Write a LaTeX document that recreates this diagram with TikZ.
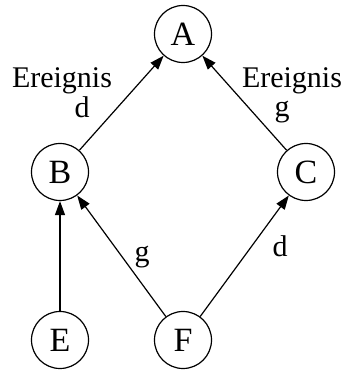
\documentclass[tikz,border=0pt]{standalone}
\usepackage{fontspec}
\setmainfont{Liberation Serif}
\usetikzlibrary{arrows.meta}

\begin{document}
\begin{tikzpicture}[
  x=1pt, y=1pt,
  font=\fontsize{30}{34}\selectfont,
  >={Triangle[length=14pt, width=10pt]},
  state/.style={circle, draw, line width=1.2pt, minimum size=57pt, inner sep=0pt,
                font=\fontsize{34}{38}\selectfont},
  arr/.style={->, line width=1.2pt},
  lbl/.style={anchor=base, inner sep=0pt},
]
\useasboundingbox (0,0) rectangle (347,370);

%% nodes
\node[state] (A) at (183,336) {A};
\node[state] (B) at (60,198)  {B};
\node[state] (C) at (306,198) {C};
\node[state] (E) at (60,30)   {E};
\node[state] (F) at (183,30)  {F};

%% edges
\draw[arr] (B) -- (A)
  node[lbl] (lBA1) at (62,282) {Ereignis}
  node[lbl] (lBA2) at (82,252) {d};
\draw[arr] (C) -- (A)
  node[lbl] (lCA1) at (292,282) {Ereignis}
  node[lbl] (lCA2) at (282,253) {g};
\draw[arr] (E) -- (B);
\draw[arr] (F) -- (B) node[lbl] (lFB) at (142,108) {g};
\draw[arr] (F) -- (C) node[lbl] (lFC) at (280,113) {d};

\end{tikzpicture}
\end{document}
